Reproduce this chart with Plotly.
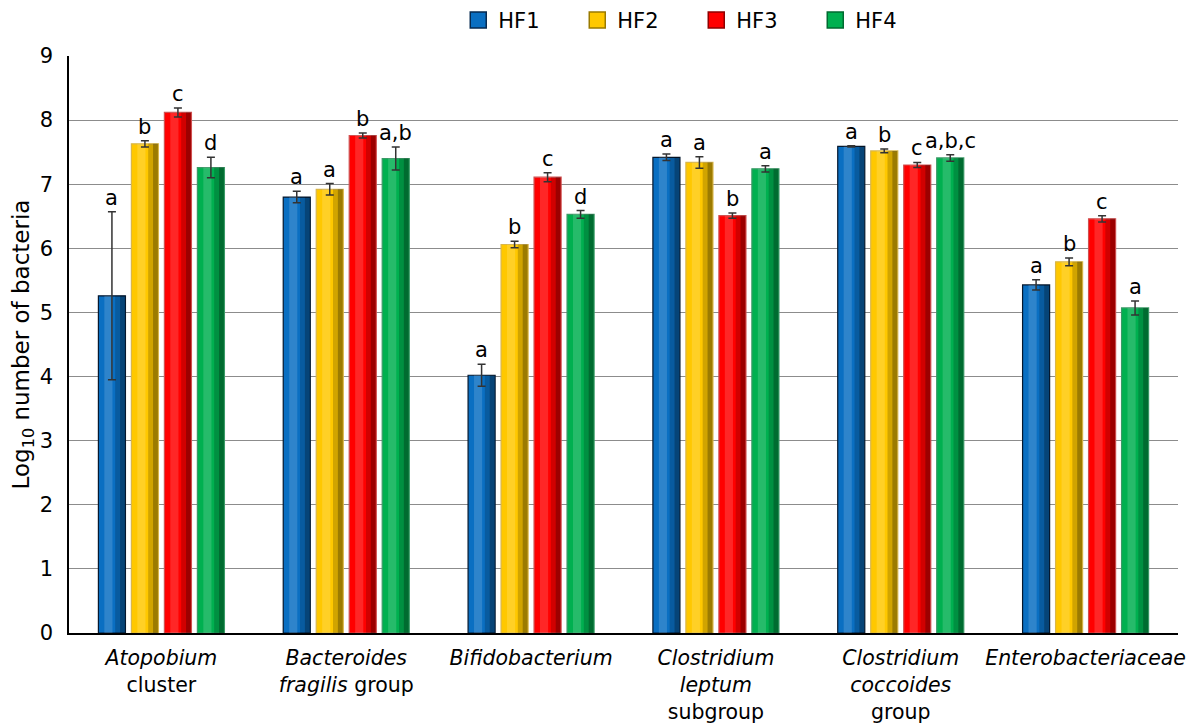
import plotly.graph_objects as go

categories = ["<i>Atopobium</i><br>cluster",
              "<i>Bacteroides</i><br><i>fragilis</i> group",
              "<i>Bifidobacterium</i>",
              "<i>Clostridium</i><br><i>leptum</i><br>subgroup",
              "<i>Clostridium</i><br><i>coccoides</i><br>group",
              "<i>Enterobacteriaceae</i>"]
series_names = ["HF1", "HF2", "HF3", "HF4"]

hf1 = [5.26, 6.80, 4.02, 7.42, 7.59, 5.43]
hf2 = [7.63, 6.92, 6.06, 7.34, 7.52, 5.79]
hf3 = [8.12, 7.76, 7.11, 6.51, 7.30, 6.46]
hf4 = [7.26, 7.40, 6.53, 7.24, 7.41, 5.07]

hf1_err = [1.31, 0.09, 0.17, 0.05, 0.01, 0.08]
hf2_err = [0.05, 0.09, 0.05, 0.09, 0.03, 0.06]
hf3_err = [0.07, 0.04, 0.07, 0.04, 0.04, 0.05]
hf4_err = [0.16, 0.18, 0.06, 0.05, 0.05, 0.11]

hf1_lbl = ["a", "a", "a", "a", "a", "a"]
hf2_lbl = ["b", "a", "b", "a", "b", "b"]
hf3_lbl = ["c", "b", "c", "b", "c", "c"]
hf4_lbl = ["d", "a,b", "d", "a", "a,b,c", "a"]

values = [hf1, hf2, hf3, hf4]
errors = [hf1_err, hf2_err, hf3_err, hf4_err]
labels = [hf1_lbl, hf2_lbl, hf3_lbl, hf4_lbl]
colors = ["#0a6fc2", "#ffc800", "#ff0000", "#00b050"]
edges = ["#06182e", "#d9b64a", "#d05050", "#3a9a66"]
legend_edges = ["#062a50", "#9a7a00", "#900000", "#006a30"]

FONT = "DejaVu Sans"
bargap = 0.286
slot = (1 - bargap) / 4
bw = slot * 0.82
x = list(range(len(categories)))

fig = go.Figure()
for j in range(4):
    off = (j - 1.5) * slot - bw / 2
    fig.add_trace(go.Bar(
        x=x, y=values[j], name=series_names[j], legendgroup=series_names[j],
        offset=off, width=bw, showlegend=False,
        marker=dict(color=colors[j], line=dict(color=edges[j], width=1.2)),
    ))
    fig.add_trace(go.Bar(
        x=x, y=values[j], showlegend=False, legendgroup=series_names[j],
        offset=off + bw * 0.62, width=bw * 0.36, hoverinfo="skip",
        marker=dict(color="rgba(0,0,0,0.18)", line=dict(width=0)),
    ))
    fig.add_trace(go.Bar(
        x=x, y=values[j], showlegend=False, legendgroup=series_names[j],
        offset=off + bw * 0.80, width=bw * 0.18, hoverinfo="skip",
        marker=dict(color="rgba(0,0,0,0.25)", line=dict(width=0)),
    ))
    fig.add_trace(go.Bar(
        x=x, y=values[j], showlegend=False, legendgroup=series_names[j],
        offset=off + bw * 0.22, width=bw * 0.30, hoverinfo="skip",
        marker=dict(color="rgba(255,255,255,0.15)", line=dict(width=0)),
    ))
    fig.add_trace(go.Bar(
        x=x, y=values[j], showlegend=False, legendgroup=series_names[j],
        offset=off, width=bw, hoverinfo="skip",
        marker=dict(color="rgba(0,0,0,0)", line=dict(width=0)),
        error_y=dict(type="data", array=errors[j], color="#333333",
                     thickness=1.5, width=4),
    ))

# legend entries with larger square swatches
for j in range(4):
    fig.add_trace(go.Scatter(
        x=[None], y=[None], mode="markers", name=series_names[j],
        legendgroup=series_names[j],
        marker=dict(symbol="square", size=19, color=colors[j],
                    line=dict(color=legend_edges[j], width=1.5)),
    ))

for j in range(4):
    for i in x:
        fig.add_annotation(
            x=i + (j - 1.5) * slot, y=values[j][i] + errors[j][i],
            xref="x", yref="y", text=labels[j][i], showarrow=False,
            yanchor="bottom", yshift=0,
            font=dict(family=FONT, size=21, color="#000000"))

fig.update_layout(
    width=1202, height=723,
    paper_bgcolor="white", plot_bgcolor="white",
    margin=dict(l=61, r=32, t=48, b=98),
    barmode="overlay",
    font=dict(family=FONT, size=21, color="#000000"),
    showlegend=True,
    legend=dict(orientation="h", x=0.351, xanchor="left",
                y=0.983, yanchor="middle", yref="container",
                font=dict(family=FONT, size=21),
                entrywidth=74, entrywidthmode="pixels",
                itemsizing="trace",
                bgcolor="rgba(0,0,0,0)"),
    xaxis=dict(tickvals=x, ticktext=categories, range=[-0.5, 5.5],
               showline=True, linecolor="#000000", linewidth=1.5,
               ticks="", showgrid=False, automargin=False,
               ticklabelstandoff=6,
               tickfont=dict(family=FONT, size=20.5)),
    yaxis=dict(range=[0, 9], dtick=1, showgrid=True, gridcolor="#8c8c8c",
               gridwidth=1, showline=True, linecolor="#000000", linewidth=1.5,
               ticks="", zeroline=False, automargin=False,
               ticklabelstandoff=10,
               tickfont=dict(family=FONT, size=21),
               title=dict(text="Log<sub>10</sub> number of bacteria",
                          font=dict(family=FONT, size=23), standoff=8)),
)

fig.write_html("out.html")
